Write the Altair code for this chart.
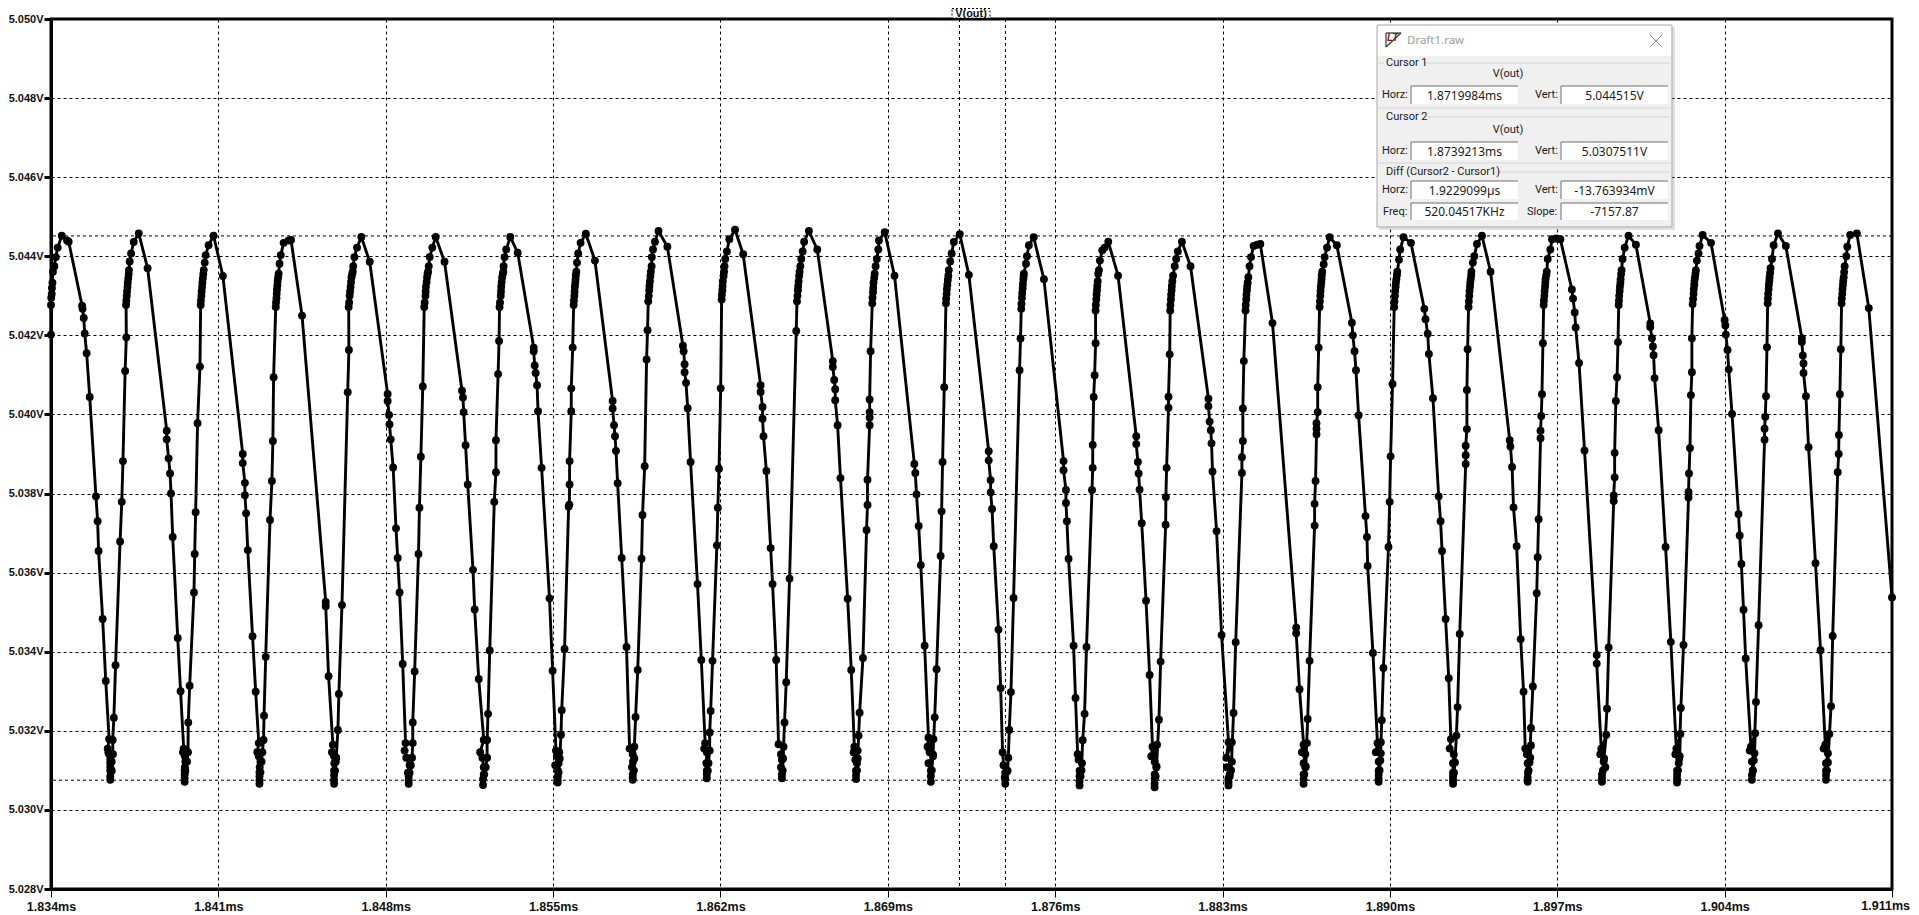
import altair as alt
import pandas as pd

# Readings: (microseconds after 1.834 ms, millivolts above 5 V)
swing_00 = [(0.00,42.02),(0.00,42.77),(0.01,42.95),(0.03,43.05),(0.04,43.2),(0.06,43.33),(0.08,43.61),(0.14,43.75),(0.20,43.98),(0.28,44.22),(0.45,44.52),(0.67,44.40),(0.74,44.37),
 (1.30,42.75),(1.32,42.67),(1.37,42.44),(1.41,42.05),(1.49,41.55),(1.62,40.44),(1.88,37.93),(1.95,37.30),(1.99,36.55),(2.16,34.83),(2.29,33.26)]
swing_01 = [(2.43,31.79),(2.37,31.55),(2.40,31.45),(2.43,31.41),(2.48,31.27),(2.48,31.18),(2.48,31.08),(2.48,30.99),(2.48,30.85),(2.48,30.76),(2.54,30.99),(2.54,31.22),(2.59,31.41),
 (2.58,31.77),(2.63,32.33),(2.70,33.66),(2.89,36.79),(2.96,37.79),(3.01,38.82),(3.10,41.10),(3.15,41.95),
 (3.14,42.77),(3.15,42.88),(3.17,43.00),(3.18,43.11),(3.20,43.22),(3.21,43.33),(3.23,43.44),(3.25,43.55),(3.26,43.65),(3.29,43.87),(3.35,44.07),(3.46,44.36),(3.67,44.58),
 (4.04,43.70),(4.84,39.59),(4.84,39.37),(4.92,38.89),(4.98,38.51),(5.02,38.00),(5.09,36.90),(5.30,34.35),(5.42,33.00)]
swing_02 = [(5.55,31.55),(5.52,31.46),(5.60,31.36),(5.62,31.22),(5.60,31.08),(5.59,30.99),(5.59,30.90),(5.59,30.80),(5.59,30.71),(5.62,30.99),(5.69,31.22),(5.73,31.46),(5.74,32.21),
 (5.80,33.14),(5.98,35.50),(6.01,36.47),(6.05,37.53),(6.13,39.78),(6.23,41.21),
 (6.26,42.77),(6.27,42.88),(6.29,43.00),(6.30,43.11),(6.32,43.22),(6.33,43.33),(6.35,43.44),(6.37,43.55),(6.39,43.65),(6.43,43.84),(6.47,44.03),(6.59,44.28),(6.80,44.52),
 (7.19,43.50),(8.02,39.00),(8.02,38.77),(8.11,38.27),(8.11,37.96),(8.16,37.50),(8.23,36.57),(8.43,34.39),(8.56,32.99)]
swing_03 = [(8.69,31.69),(8.63,31.46),(8.69,31.36),(8.76,31.22),(8.73,31.08),(8.72,30.95),(8.72,30.85),(8.72,30.75),(8.72,30.66),(8.76,30.95),(8.81,31.22),(8.84,31.46),(8.89,31.77),
 (8.91,32.38),(8.98,33.87),(9.16,37.33),(9.24,38.32),(9.28,39.33),(9.31,40.94),
 (9.40,42.72),(9.41,42.83),(9.43,42.94),(9.44,43.05),(9.45,43.16),(9.47,43.27),(9.48,43.38),(9.50,43.47),(9.52,43.56),(9.56,43.81),(9.61,44.03),(9.73,44.34),(9.94,44.40),(10.04,44.41),
 (10.50,42.50),(11.49,35.26),(11.49,35.15),(11.61,33.38)]
swing_04 = [(11.79,31.65),(11.75,31.46),(11.84,31.36),(11.91,31.32),(11.85,31.18),(11.84,30.99),(11.84,30.88),(11.84,30.76),(11.84,30.66),(11.88,30.99),(11.91,31.22),(11.93,31.32),
 (12.00,32.02),(12.04,32.93),(12.17,35.18),(12.41,40.56),(12.46,41.63),
 (12.45,42.72),(12.47,42.83),(12.49,43.00),(12.51,43.11),(12.53,43.23),(12.55,43.35),(12.57,43.47),(12.60,43.56),(12.62,43.61),(12.64,43.75),(12.69,43.98),(12.80,44.22),(12.98,44.49),
 (13.33,43.86),(14.08,40.52),(14.08,40.34),(14.14,39.99),(14.16,39.75),(14.21,39.37),(14.31,38.66),(14.43,37.12),(14.50,36.37),(14.58,35.50),(14.71,33.69)]
swing_05 = [(14.83,31.69),(14.79,31.50),(14.86,31.32),(15.00,31.13),(14.93,30.94),(14.96,30.85),(14.96,30.75),(14.96,30.66),(15.00,30.94),(15.05,31.13),(15.10,31.32),(15.13,31.69),
 (15.13,32.21),(15.21,33.50),(15.37,36.47),(15.41,37.64),(15.47,38.93),(15.55,40.71),
 (15.61,42.72),(15.63,42.83),(15.66,43.00),(15.67,43.11),(15.68,43.23),(15.71,43.35),(15.73,43.47),(15.75,43.56),(15.77,43.61),(15.80,43.75),(15.84,43.98),(15.95,44.22),(16.09,44.49),
 (16.46,43.86),(17.19,40.60),(17.23,40.43),(17.26,40.06),(17.34,39.22),(17.43,38.23),(17.65,36.07),(17.72,35.07),(17.89,33.31)]
swing_06 = [(18.10,31.77),(17.95,31.46),(18.04,31.32),(18.10,31.08),(18.10,30.90),(18.07,30.78),(18.07,30.63),(18.12,30.90),(18.18,31.08),(18.24,31.32),(18.24,31.77),
 (18.28,32.43),(18.35,34.03),(18.54,37.79),(18.61,38.54),(18.61,39.35),(18.70,41.02),(18.74,41.86),
 (18.76,42.72),(18.78,42.83),(18.81,43.00),(18.82,43.11),(18.83,43.23),(18.85,43.35),(18.87,43.47),(18.90,43.56),(18.92,43.61),(18.93,43.75),(18.97,43.98),(19.04,44.17),(19.21,44.49),
 (19.52,44.09),(20.19,41.69),(20.19,41.60),(20.23,41.24),(20.27,41.05),(20.33,40.74),(20.37,40.08),(20.52,38.65),(20.85,35.35),(20.98,33.52)]
swing_07 = [(21.12,31.50),(21.16,31.36),(21.26,31.46),(21.09,31.13),(21.23,31.18),(21.20,30.99),(21.20,30.85),(21.19,30.75),(21.19,30.69),(21.23,30.95),(21.28,31.30),
 (21.33,31.90),(21.36,32.52),(21.48,34.07),(21.65,37.67),(21.68,37.72),(21.69,38.23),(21.69,38.82),(21.76,40.08),(21.76,40.66),(21.82,41.69),
 (21.86,42.77),(21.87,42.88),(21.89,43.00),(21.90,43.11),(21.91,43.23),(21.93,43.33),(21.94,43.42),(21.95,43.52),(21.97,43.61),(22.00,43.84),(22.05,44.07),(22.15,44.34),(22.37,44.57),
 (22.75,43.89),(23.49,40.34),(23.49,40.15),(23.55,39.73),(23.59,39.45),(23.63,39.08),(23.70,38.26),(23.87,36.37),(24.07,34.12)]
swing_08 = [(24.20,31.55),(24.33,31.41),(24.34,31.22),(24.30,31.08),(24.33,30.90),(24.33,30.82),(24.33,30.76),(24.38,31.00),(24.40,31.30),(24.40,31.60),
 (24.45,32.35),(24.54,33.54),(24.70,36.35),(24.74,37.46),(24.83,38.69),(24.91,41.39),(24.95,42.13),
 (24.98,42.86),(25.00,43.00),(25.02,43.14),(25.03,43.25),(25.05,43.37),(25.07,43.50),(25.09,43.61),(25.12,43.75),(25.13,43.98),(25.18,44.17),(25.26,44.37),(25.41,44.64),
 (25.78,44.24),(26.43,41.74),(26.46,41.60),(26.50,41.27),(26.50,41.07),(26.56,40.80),(26.63,40.16),(26.75,38.80),(27.04,35.71),(27.20,33.79)]
swing_09 = [(27.36,31.69),(27.32,31.55),(27.43,31.46),(27.41,31.18),(27.43,30.99),(27.43,30.90),(27.43,30.80),(27.47,30.99),(27.50,31.18),(27.55,31.50),
 (27.55,31.96),(27.59,32.50),(27.67,33.77),(27.85,36.69),(27.89,37.64),(27.94,38.63),(28.01,40.66),
 (28.05,42.91),(28.06,43.03),(28.08,43.14),(28.09,43.25),(28.10,43.37),(28.13,43.50),(28.15,43.61),(28.17,43.75),(28.20,43.93),(28.27,44.12),(28.37,44.43),(28.61,44.67),
 (28.95,44.05),(29.68,40.74),(29.68,40.57),(29.76,40.19),(29.76,39.89),(29.80,39.45),(29.92,38.57),(30.10,36.62),(30.18,35.71),(30.33,33.79)]
swing_10 = [(30.43,31.66),(30.64,31.60),(30.53,31.41),(30.57,31.27),(30.53,31.08),(30.57,30.90),(30.57,30.80),(30.60,31.00),(30.62,31.30),
 (30.68,32.21),(30.75,33.23),(30.89,35.85),(31.17,42.11),
 (31.20,42.86),(31.22,43.00),(31.24,43.14),(31.25,43.25),(31.27,43.37),(31.29,43.50),(31.31,43.61),(31.34,43.75),(31.38,43.93),(31.44,44.12),(31.50,44.37),(31.70,44.64),
 (32.05,44.17),(32.70,41.35),(32.70,41.20),(32.76,40.87),(32.80,40.64),(32.80,40.36),(32.90,39.73),(33.02,38.39),(33.32,35.34),(33.47,33.54)]
swing_11 = [(33.60,31.60),(33.57,31.46),(33.74,31.50),(33.64,31.27),(33.71,31.18),(33.67,30.99),(33.67,30.88),(33.67,30.78),(33.71,31.00),(33.74,31.30),
 (33.78,31.88),(33.82,32.46),(33.96,33.84),(34.11,37.08),(34.15,37.71),(34.15,38.35),(34.24,39.73),(34.24,39.92),(34.24,40.06),(34.24,40.38),(34.28,41.60),
 (34.35,42.81),(34.36,42.95),(34.38,43.09),(34.39,43.20),(34.40,43.33),(34.43,43.45),(34.45,43.56),(34.49,43.75),(34.54,43.93),(34.60,44.17),(34.63,44.40),(34.87,44.61),
 (35.28,43.51),(36.11,38.75),(36.15,38.52),(36.20,37.98),(36.29,37.18),(36.38,36.19),(36.54,34.15)]
swing_12 = [(36.70,31.83),(36.66,31.60),(36.91,31.79),(36.75,31.46),(36.89,31.36),(36.70,31.18),(36.80,30.99),(36.80,30.85),(36.80,30.71),(36.84,31.00),(36.89,31.40),
 (36.96,32.34),(37.04,33.56),(37.21,36.42),(37.25,37.55),(37.29,38.80),(37.36,40.69),
 (37.43,42.81),(37.44,42.93),(37.46,43.05),(37.47,43.17),(37.49,43.28),(37.51,43.40),(37.53,43.51),(37.55,43.65),(37.61,43.87),(37.67,44.07),(37.76,44.36),(38.01,44.56),
 (38.39,43.53),(39.22,39.07),(39.22,38.84),(39.30,38.34),(39.30,38.03),(39.36,37.61),(39.43,36.67),(39.63,34.56),(39.72,33.08)]
swing_13 = [(39.80,31.46),(39.84,31.13),(39.91,30.94),(39.91,30.80),(39.91,30.66),(39.89,30.82),(39.95,30.95),(40.01,30.99),(40.04,31.32),
 (40.08,32.02),(40.15,32.98),(40.26,35.36),(40.51,41.12),(40.55,41.92),
 (40.58,42.67),(40.59,42.80),(40.61,42.95),(40.62,43.07),(40.64,43.19),(40.65,43.30),(40.67,43.42),(40.68,43.50),(40.69,43.56),(40.78,43.81),(40.82,44.00),(40.90,44.28),(41.10,44.48),
 (41.53,43.42),(42.35,38.82),(42.35,38.59),(42.45,38.09),(42.45,37.76),(42.49,37.30),(42.56,36.35),(42.77,34.15),(42.85,32.83)]
swing_14 = [(42.94,31.41),(42.98,31.27),(43.12,31.18),(43.02,30.99),(43.02,30.85),(43.02,30.72),(43.02,30.62),(43.06,30.85),(43.10,31.00),
 (43.15,31.76),(43.23,32.43),(43.31,34.12),(43.54,38.09),(43.57,38.65),(43.57,39.23),(43.61,40.44),(43.65,40.99),(43.69,41.80),
 (43.69,42.63),(43.70,42.77),(43.72,42.91),(43.73,43.03),(43.75,43.14),(43.76,43.25),(43.78,43.37),(43.80,43.56),(43.83,43.65),(43.87,43.89),(43.97,44.15),(44.07,44.22),(44.22,44.37),
 (44.63,43.51),(45.39,39.45),(45.39,39.25),(45.46,38.80),(45.49,38.51),(45.53,38.10),(45.62,37.25),(45.80,35.29),(45.95,33.41)]
swing_15 = [(46.07,31.60),(46.02,31.36),(46.26,31.65),(46.16,31.22),(46.23,31.08),(46.16,30.90),(46.16,30.78),(46.16,30.67),(46.16,30.57),(46.20,30.85),(46.24,31.10),
 (46.34,32.28),(46.41,33.75),(46.62,37.21),(46.63,37.91),(46.66,38.65),(46.74,40.17),(46.74,40.45),(46.79,41.52),
 (46.81,42.63),(46.82,42.77),(46.84,42.91),(46.85,43.03),(46.87,43.14),(46.88,43.25),(46.90,43.37),(46.93,43.51),(47.00,43.75),(47.06,43.93),(47.13,44.12),(47.30,44.37),
 (47.66,43.75),(48.41,40.40),(48.41,40.21),(48.46,39.82),(48.51,39.60),(48.54,39.27),(48.58,38.56),(48.75,37.05),(48.96,34.42)]
swing_16 = [(49.25,31.71),(49.16,31.32),(49.39,31.71),(49.39,31.22),(49.18,31.08),(49.30,30.90),(49.25,30.80),(49.25,30.70),(49.25,30.62),(49.30,30.85),(49.36,31.00),
 (49.46,32.45),(49.55,34.24),(49.81,38.52),(49.81,38.92),(49.85,39.33),(49.85,40.15),(49.89,41.35),
 (49.96,42.63),(49.97,42.77),(49.99,42.91),(50.00,43.03),(50.02,43.14),(50.03,43.24),(50.05,43.33),(50.08,43.47),(50.13,43.75),(50.19,43.98),(50.30,44.26),(50.45,44.29),(50.58,44.31),
 (51.09,42.31),(52.08,34.61),(52.08,34.47),(52.22,33.05)]
swing_17 = [(52.39,31.65),(52.32,31.46),(52.53,31.69),(52.46,31.41),(52.39,31.18),(52.46,31.08),(52.39,30.90),(52.39,30.78),(52.39,30.66),(52.42,30.90),(52.48,31.10),
 (52.56,32.30),(52.64,33.77),(52.85,37.19),(52.85,37.74),(52.89,38.32),(52.93,39.50),(52.93,39.64),(52.93,39.78),(52.98,40.06),(52.98,40.69),(53.02,41.69),
 (53.06,42.72),(53.07,42.86),(53.09,43.00),(53.10,43.12),(53.11,43.23),(53.13,43.33),(53.14,43.42),(53.15,43.52),(53.17,43.61),(53.23,43.80),(53.27,43.98),(53.37,44.22),(53.48,44.48),
 (53.78,44.28),(54.41,42.32),(54.45,42.00),(54.52,41.60),(54.58,41.12),(54.69,39.98),(54.98,37.43),(55.04,36.90),(55.07,36.17),(55.29,33.97)]
swing_18 = [(55.48,31.69),(55.41,31.46),(55.62,31.71),(55.62,31.43),(55.53,31.22),(55.53,30.99),(55.53,30.88),(55.53,30.78),(55.53,30.71),(55.57,31.00),(55.60,31.25),
 (55.66,32.27),(55.73,33.59),(55.94,36.65),(55.99,37.79),(56.03,38.94),(56.11,40.77),
 (56.18,42.72),(56.19,42.86),(56.21,43.00),(56.22,43.12),(56.24,43.23),(56.25,43.33),(56.27,43.42),(56.29,43.52),(56.31,43.61),(56.38,43.91),(56.43,44.17),(56.57,44.48),
 (56.88,44.34),(57.44,42.67),(57.49,42.41),(57.58,42.04),(57.63,41.53),(57.80,40.41),(58.04,37.93),(58.12,37.30),(58.18,36.55),(58.33,34.83),(58.46,33.33)]
swing_19 = [(58.55,31.79),(58.50,31.55),(58.67,31.41),(58.64,31.18),(58.64,30.94),(58.64,30.85),(58.64,30.75),(58.64,30.66),(58.68,30.94),(58.72,31.20),
 (58.78,31.88),(58.83,32.60),(58.92,34.45),(59.17,38.75),(59.17,38.97),(59.17,39.21),(59.22,39.63),(59.22,40.62),(59.25,41.65),
 (59.29,42.72),(59.30,42.86),(59.32,43.00),(59.33,43.12),(59.35,43.23),(59.36,43.33),(59.38,43.42),(59.40,43.52),(59.41,43.61),(59.47,43.84),(59.53,44.00),(59.64,44.31),(59.85,44.52),
 (60.21,43.61),(61.01,39.35),(61.04,39.19),(61.11,38.67),(61.17,37.65),(61.30,36.67),(61.47,34.32),(61.59,32.99)]
swing_20 = [(61.66,31.55),(61.73,31.41),(61.90,31.63),(61.87,31.32),(61.76,31.18),(61.77,30.94),(61.76,30.82),(61.76,30.71),(61.80,31.00),(61.84,31.20),
 (61.90,32.07),(61.98,33.12),(62.14,35.48),(62.18,36.39),(62.22,37.35),(62.30,39.40),(62.30,39.59),(62.33,39.96),(62.36,40.51),(62.40,41.80),
 (62.43,42.77),(62.44,42.88),(62.46,43.00),(62.47,43.12),(62.49,43.23),(62.50,43.33),(62.51,43.42),(62.54,43.52),(62.56,43.61),(62.60,43.93),(62.71,44.17),(62.78,44.43),(62.96,44.45),(63.13,44.43),
 (63.61,43.16),(63.66,42.93),(63.73,42.58),(63.77,42.20),(63.91,41.30),(64.14,39.09),(64.65,33.92),(64.65,33.70)]
swing_21 = [(64.84,31.55),(64.80,31.41),(65.05,31.90),(64.94,31.22),(65.01,31.08),(64.87,30.90),(64.87,30.80),(64.87,30.71),(64.91,31.00),(64.96,31.30),
 (65.08,32.56),(65.15,34.11),(65.36,37.81),(65.36,37.95),(65.40,38.41),(65.40,39.03),(65.45,40.34),(65.50,40.94),(65.54,41.83),
 (65.57,42.77),(65.58,42.88),(65.59,43.00),(65.61,43.12),(65.62,43.23),(65.64,43.33),(65.65,43.42),(65.67,43.55),(65.69,43.65),(65.73,43.93),(65.82,44.22),(65.98,44.52),
 (66.29,44.29),(66.89,42.30),(66.89,42.21),(66.96,41.93),(67.00,41.72),(67.03,41.50),(67.07,40.92),(67.24,39.60),(67.53,36.65),(67.75,34.25)]
swing_22 = [(67.98,31.55),(67.94,31.41),(68.15,31.92),(68.12,31.36),(68.08,31.18),(68.01,30.99),(68.01,30.88),(68.01,30.78),(68.01,30.69),(68.05,31.00),(68.10,31.30),
 (68.17,32.58),(68.28,34.17),(68.49,37.90),(68.49,38.04),(68.51,38.51),(68.55,39.15),(68.59,40.49),(68.63,41.07),(68.63,41.93),
 (68.66,42.79),(68.68,42.92),(68.70,43.05),(68.71,43.17),(68.73,43.28),(68.74,43.38),(68.76,43.47),(68.78,43.56),(68.80,43.65),(68.84,43.89),(68.91,44.07),(68.95,44.26),(69.08,44.54),
 (69.43,44.34),(70.00,42.39),(70.03,42.25),(70.05,42.02),(70.12,41.63),(70.17,41.14),(70.31,40.01),(70.58,37.48),(70.63,36.94),(70.70,36.22),(70.79,35.06),(70.88,33.83)]
swing_23 = [(71.10,31.60),(71.05,31.50),(71.28,31.94),(71.25,31.43),(71.14,31.22),(71.18,30.99),(71.14,30.88),(71.14,30.76),(71.18,31.00),(71.22,31.25),
 (71.31,32.73),(71.42,34.67),(71.67,39.36),(71.67,39.64),(71.70,39.94),(71.73,40.46),(71.77,41.70),
 (71.80,42.81),(71.81,42.93),(71.82,43.05),(71.84,43.17),(71.85,43.28),(71.87,43.38),(71.88,43.47),(71.90,43.58),(71.92,43.70),(71.98,43.93),(72.05,44.28),(72.23,44.58),
 (72.56,44.26),(73.23,41.93),(73.23,41.83),(73.27,41.49),(73.30,41.29),(73.30,41.05),(73.40,40.46),(73.51,39.17),(73.80,36.24),(74.01,34.04)]
swing_24 = [(74.21,31.65),(74.14,31.55),(74.38,31.92),(74.32,31.43),(74.24,31.18),(74.24,30.99),(74.24,30.88),(74.24,30.76),(74.28,31.00),(74.32,31.20),
 (74.45,32.62),(74.52,34.40),(74.73,38.54),(74.77,39.00),(74.78,39.48),(74.82,40.51),(74.86,41.65),
 (74.89,42.81),(74.90,42.93),(74.92,43.05),(74.93,43.17),(74.95,43.28),(74.96,43.38),(74.98,43.47),(75.00,43.60),(75.02,43.75),(75.09,44.00),(75.13,44.24),(75.25,44.54),(75.53,44.58),
 (76.03,42.69),(77.00,35.37)]

swings = [swing_00, swing_01, swing_02, swing_03, swing_04, swing_05, swing_06, swing_07, swing_08,
          swing_09, swing_10, swing_11, swing_12, swing_13, swing_14, swing_15, swing_16, swing_17,
          swing_18, swing_19, swing_20, swing_21, swing_22, swing_23, swing_24]

x_ticks = [1.834, 1.841, 1.848, 1.855, 1.862, 1.869, 1.876, 1.883, 1.890, 1.897, 1.904, 1.911]
y_ticks = [5.028, 5.030, 5.032, 5.034, 5.036, 5.038, 5.040, 5.042, 5.044, 5.046, 5.048, 5.050]
cursor_times = [1.8719984, 1.8739213]
cursor_volts = [5.044515, 5.0307511]

rows = []
for sw in swings:
    for t, mv in sw:
        rows.append({"i": len(rows), "t": 1.834 + t / 1000, "v": 5 + mv / 1000})
trace = pd.DataFrame(rows)

LABEL_FONT = "Liberation Sans"
UI_FONT = "Noto Sans"
CAPTION_FONT = "Roboto"
x_scale = alt.Scale(domain=[1.834, 1.911], nice=False, zero=False)
y_scale = alt.Scale(domain=[5.028, 5.050], nice=False, zero=False)
x_enc = alt.X("t:Q", scale=x_scale, title=None, axis=alt.Axis(
    values=x_ticks, labelExpr="datum.value > 1.91 ? '' : format(datum.value,'.3f')+'ms'", grid=True, gridColor="#000000",
    gridDash=[3, 3], gridWidth=1, gridOpacity=1, tickColor="#000000", tickSize=8, tickWidth=1,
    domainColor="#000000", domainWidth=3, labelColor="#111111", labelFont=LABEL_FONT,
    labelFontWeight="bold", labelFontSize=12.5, labelPadding=3, labelOverlap=False, labelFlush=False))
y_enc = alt.Y("v:Q", scale=y_scale, title=None, axis=alt.Axis(
    values=y_ticks, labelExpr="format(datum.value,'.3f')+'V'", grid=True, gridColor="#000000",
    gridDash=[3, 3], gridWidth=1, gridOpacity=1, tickColor="#000000", tickSize=7, tickWidth=3,
    domainColor="#000000", domainWidth=3, labelColor="#111111", labelFont=LABEL_FONT,
    labelFontWeight="bold", labelFontSize=11, labelPadding=1, labelOverlap=False, labelFlush=False))

base = alt.Chart(trace)
line = base.mark_line(color="#000000", strokeWidth=2.9, clip=False).encode(x=x_enc, y=y_enc, order="i:Q")
dots = base.mark_circle(color="#000000", opacity=1, size=62, clip=False).encode(x=x_enc, y=y_enc)

cur_x = alt.Chart(pd.DataFrame({"t": cursor_times})).mark_rule(
    color="#000000", strokeDash=[3, 3], strokeWidth=1).encode(x=alt.X("t:Q", scale=x_scale))
cur_y = alt.Chart(pd.DataFrame({"v": cursor_volts})).mark_rule(
    color="#000000", strokeDash=[3, 3], strokeWidth=1).encode(y=alt.Y("v:Q", scale=y_scale))

# Page pixel -> chart pixel
OX, OY = 51, 19
one = pd.DataFrame({"a": [0]})


def rect(x0, y0, x1, y1, fill, stroke=None, dash=None, opacity=1):
    kw = {"fill": fill, "opacity": opacity}
    if stroke:
        kw.update(stroke=stroke, strokeWidth=1)
    if dash:
        kw.update(strokeDash=dash)
    return alt.Chart(one).mark_rect(**kw).encode(
        x=alt.value(x0 - OX), x2=alt.value(x1 - OX), y=alt.value(y0 - OY), y2=alt.value(y1 - OY))


def seg(x0, y0, x1, y1, color, width=1):
    return alt.Chart(one).mark_rule(color=color, strokeWidth=width).encode(
        x=alt.value(x0 - OX), x2=alt.value(x1 - OX), y=alt.value(y0 - OY), y2=alt.value(y1 - OY))


def label(x, y, s, align="left", size=11, color="#1a1a1a", font=CAPTION_FONT, weight="normal", style="normal"):
    return alt.Chart(one).mark_text(text=s, align=align, baseline="middle", fontSize=size, color=color,
                                    font=font, fontWeight=weight, fontStyle=style).encode(
        x=alt.value(x - OX), y=alt.value(y - OY))


def field(x0, y0, x1, y1, s):
    return [rect(x0, y0, x1, y1, "#ffffff"), seg(x0, y0, x1, y0, "#6e6e6e"), seg(x0, y0, x0, y1, "#6e6e6e"),
            label((x0 + x1) / 2, (y0 + y1) / 2 + 0.5, s, "center", 12, font=UI_FONT)]


L0, L1, R0, R1 = 1411, 1518, 1561, 1668
panel = [rect(1379, 27, 1675, 230, "#000000", opacity=0.12),
         rect(1377, 25, 1672, 227, "#f0f0f0", stroke="#a9a9a9"),
         rect(1378, 26, 1671, 56, "#ffffff"),
         seg(1386, 33, 1386, 47, "#333333", 1.2), seg(1386, 33, 1401, 33, "#333333", 1.2),
         seg(1386, 47, 1401, 33, "#333333", 1.2),
         label(1387, 38, "LT", "left", 10, "#7a1c1c", LABEL_FONT, "bold", "italic"),
         label(1407, 41, "Draft1.raw", "left", 11.5, "#9b9b9b", UI_FONT),
         seg(1650, 35, 1662, 47, "#8a8a8a"), seg(1650, 47, 1662, 35, "#8a8a8a"),
         seg(1378, 63, 1384, 63, "#d6d6d6"), seg(1425, 63, 1670, 63, "#d6d6d6"),
         label(1386, 63, "Cursor 1"), label(1508, 74, "V(out)", "center"),
         label(1382, 95, "Horz:"), label(1535, 95, "Vert:"),
         seg(1378, 108, 1671, 108, "#d6d6d6"),
         seg(1428, 117, 1670, 117, "#d6d6d6"),
         label(1386, 117, "Cursor 2"), label(1508, 130, "V(out)", "center"),
         label(1382, 151, "Horz:"), label(1535, 151, "Vert:"),
         seg(1378, 163, 1671, 163, "#d6d6d6"),
         seg(1495, 172, 1670, 172, "#d6d6d6"),
         label(1386, 172, "Diff (Cursor2 - Cursor1)"),
         label(1382, 190, "Horz:"), label(1535, 190, "Vert:"),
         label(1383, 212, "Freq:"), label(1527, 212, "Slope:")]
panel += field(L0, 86, L1, 104, "1.8719984ms") + field(R0, 86, R1, 104, "5.044515V")
panel += field(L0, 142, L1, 160, "1.8739213ms") + field(R0, 142, R1, 160, "5.0307511V")
panel += field(L0, 181, L1, 199, "1.9229099µs") + field(R0, 181, R1, 199, "-13.763934mV")
panel += field(L0, 203, L1, 220, "520.04517KHz") + field(R0, 203, R1, 220, "-7157.87")

title = [rect(952, 8.5, 990, 18, "#ffffff", stroke="#000000", dash=[2, 2]),
         label(971, 13.5, "V(out)", "center", 11, "#111111", LABEL_FONT, "bold")]

# The last x label would run past the page's right margin, so it is set flush with that edge.
last_x_label = label(1910, 905.5, "1.911ms", "right", 12.5, "#111111", LABEL_FONT, "bold")

chart = alt.layer(line, dots, cur_x, cur_y, *title, last_x_label, *panel).resolve_scale(x="shared", y="shared").properties(
    width=1841, height=870,
    autosize=alt.AutoSizeParams(type="none"),
    padding={"left": 43, "top": 11, "right": 19, "bottom": 23},
    background="#ffffff",
).configure_view(stroke="#000000", strokeWidth=3)

chart.save("out.html", embed_options={"renderer": "svg", "actions": False})
